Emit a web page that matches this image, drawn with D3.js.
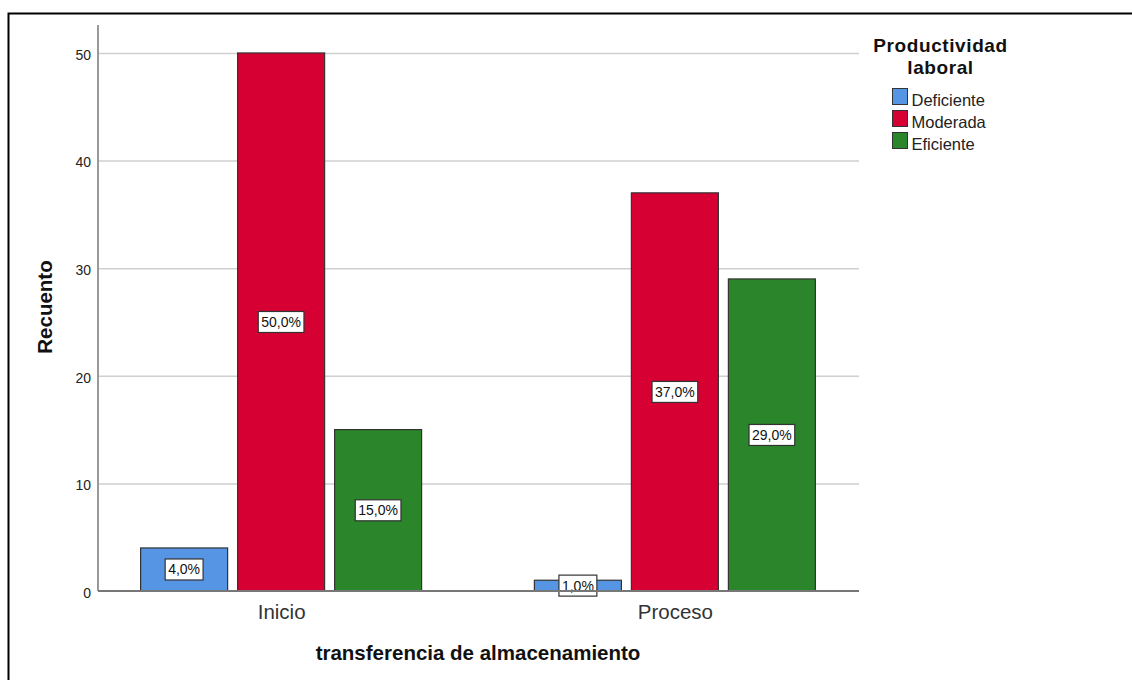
<!DOCTYPE html>
<html><head><meta charset="utf-8">
<script src="https://cdn.jsdelivr.net/npm/d3@7"></script>
<style>body{margin:0;background:#fff}svg{display:block;font-family:Arial,"Liberation Sans",sans-serif}</style>
</head><body><svg id="c" width="1132" height="680"></svg>
<script>
const categories = ["Inicio", "Proceso"];
const seriesNames = ["Deficiente", "Moderada", "Eficiente"];
const seriesColors = ["#5595e4", "#d60032", "#2a852b"];
const inicioValues = [4, 50, 15];
const procesoValues = [1, 37, 29];
const inicioLabels = ["4,0%", "50,0%", "15,0%"];
const procesoLabels = ["1,0%", "37,0%", "29,0%"];
const yTicks = [0, 10, 20, 30, 40, 50];

const rows = [
  {cat: categories[0], values: inicioValues, labels: inicioLabels},
  {cat: categories[1], values: procesoValues, labels: procesoLabels}
];

const svg = d3.select("#c");
// outer frame
svg.append("rect").attr("x", 8.5).attr("y", 13.5).attr("width", 1140).attr("height", 700)
  .attr("fill", "none").attr("stroke", "#000").attr("stroke-width", 2);

const pLeft = 98, pRight = 858, pTop = 25, pBottom = 591;
const y = d3.scaleLinear().domain([0, 52.6]).range([pBottom, pTop]);
const x = d3.scalePoint().domain(categories).range([pLeft, pRight]).padding(0.465);
const xs = d3.scaleBand().domain(seriesNames).range([-140.5, 140.5]).paddingInner(0.103);

// gridlines
svg.append("g").selectAll("line").data(yTicks.filter(d => d > 0)).join("line")
  .attr("x1", pLeft).attr("x2", pRight + 1).attr("y1", d => y(d) + 0.5).attr("y2", d => y(d) + 0.5)
  .attr("stroke", "#cfcfcf").attr("stroke-width", 1.5);

// y axis
const yAxis = svg.append("g").attr("transform", `translate(${pLeft},0)`)
  .call(d3.axisLeft(y).tickValues(yTicks).tickSize(0).tickPadding(7));
yAxis.select(".domain").attr("stroke", "#999").attr("stroke-width", 2).attr("d", `M0,${pTop}V${pBottom}`);
yAxis.selectAll("text").attr("font-size", 14).attr("fill", "#222").attr("dy", "0.45em");

// bars
rows.forEach(r => {
  const g = svg.append("g").attr("transform", `translate(${x(r.cat)},0)`);
  g.selectAll("rect").data(seriesNames).join("rect")
    .attr("x", s => xs(s)).attr("width", xs.bandwidth())
    .attr("y", (s, i) => y(r.values[i])).attr("height", (s, i) => y(0) - y(r.values[i]))
    .attr("fill", (s, i) => seriesColors[i]).attr("stroke", "#333").attr("stroke-width", 1.2);
  const lab = g.selectAll("g.lab").data(seriesNames).join("g").attr("class", "lab")
    .attr("transform", (s, i) => `translate(${xs(s) + xs.bandwidth() / 2},${y(r.values[i] / 2)})`);
  const box = lab.append("rect").attr("y", -10.5).attr("height", 21)
    .attr("fill", "#fff").attr("stroke", "#333").attr("stroke-width", 1.2);
  const txt = lab.append("text").attr("text-anchor", "middle").attr("dy", "0.35em").attr("y", 0)
    .attr("font-size", 14).attr("fill", "#111").text((s, i) => r.labels[i]);
  txt.each(function (d, i) {
    const w = this.getComputedTextLength() + 6;
    d3.select(box.nodes()[i]).attr("x", -w / 2).attr("width", w);
  });
});

// x axis
const xAxis = svg.append("g").attr("transform", `translate(0,${pBottom})`)
  .call(d3.axisBottom(x).tickSize(0).tickPadding(0));
xAxis.select(".domain").attr("stroke", "#777").attr("stroke-width", 2).attr("d", `M${pLeft},0H${pRight + 1}`);
xAxis.selectAll("text").attr("font-size", 20.5).attr("fill", "#333").attr("dy", null).attr("y", 28);

// axis titles
svg.append("text").attr("x", 478).attr("y", 660).attr("text-anchor", "middle")
  .attr("font-size", 20.5).attr("font-weight", "bold").attr("fill", "#111").text("transferencia de almacenamiento");
svg.append("text").attr("transform", "translate(52,307) rotate(-90)").attr("text-anchor", "middle")
  .attr("font-size", 20.5).attr("font-weight", "bold").attr("fill", "#111").text("Recuento");

// legend
svg.append("text").attr("x", 940.5).attr("y", 51.5).attr("text-anchor", "middle")
  .attr("font-size", 19).attr("letter-spacing", 0.6).attr("font-weight", "bold").attr("fill", "#111").text("Productividad");
svg.append("text").attr("x", 940.5).attr("y", 74).attr("text-anchor", "middle")
  .attr("font-size", 19).attr("letter-spacing", 0.6).attr("font-weight", "bold").attr("fill", "#111").text("laboral");
const leg = svg.append("g").selectAll("g").data(seriesNames).join("g")
  .attr("transform", (d, i) => `translate(892.5,${88.5 + i * 22})`);
leg.append("rect").attr("width", 15).attr("height", 16)
  .attr("fill", (d, i) => seriesColors[i]).attr("stroke", "#333").attr("stroke-width", 1);
leg.append("text").attr("x", 19).attr("y", 17)
  .attr("font-size", 16.5).attr("fill", "#222").text(d => d);
</script></body></html>
